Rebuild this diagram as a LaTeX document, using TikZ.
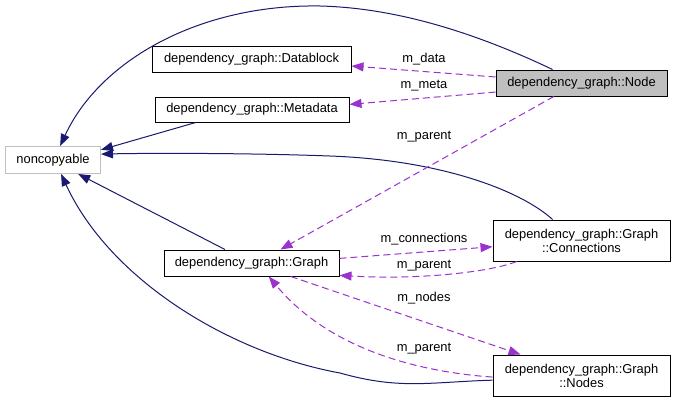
\documentclass[tikz,border=0pt]{standalone}
\usepackage{fontspec}
\setmainfont{Liberation Sans}
\usetikzlibrary{arrows.meta}
\definecolor{inhblue}{HTML}{191970}
\definecolor{usepurple}{HTML}{9A32CD}
\definecolor{boxgray}{HTML}{BFBFBF}
\tikzset{
  cls/.style={rectangle, draw=black, fill=white, line width=1pt, inner sep=0pt,
              align=center, font=\fontsize{12.9}{14}\selectfont},
  extcls/.style={cls, draw=boxgray},
  curcls/.style={cls, fill=boxgray},
  inh/.style={draw=inhblue, line width=1pt, -{Triangle[length=12pt,width=9pt]}},
  mem/.style={draw=usepurple, line width=1pt, dash pattern=on 7pt off 4pt,
              -{Triangle[length=12pt,width=9pt]}},
  mlab/.style={font=\fontsize{12.9}{14}\selectfont},
}
\begin{document}
\begin{tikzpicture}[x=1pt, y=-1pt]
  \useasboundingbox[fill=white] (0,0) rectangle (675,402);
  \node[extcls, minimum width=95pt, minimum height=27pt] (nc) at (53,160) {noncopyable};
  \node[cls, minimum width=199pt, minimum height=26pt] (db) at (251.5,59) {dependency\_graph::Datablock};
  \node[cls, minimum width=194pt, minimum height=25pt] (md) at (252,109.5) {dependency\_graph::Metadata};
  \node[curcls, minimum width=171pt, minimum height=26pt] (nd) at (581.5,83) {dependency\_graph::Node};
  \node[cls, minimum width=175pt, minimum height=26pt] (gr) at (251.5,263) {dependency\_graph::Graph};
  \node[cls, minimum width=177pt, minimum height=41pt] (cn) at (581.5,240.5) {dependency\_graph::Graph\\::Connections};
  \node[cls, minimum width=177pt, minimum height=41pt] (ns) at (581.5,375.5) {dependency\_graph::Graph\\::Nodes};
  \draw[inh] (nd.155) .. controls (480,35) and (400,8) .. (320,6)
             .. controls (200,4) and (100,60) .. (nc.63);
  \draw[inh] (md.193.5) -- (nc.12);
  \draw[inh] (cn.144) .. controls (520,190) and (440,160) .. (330,156)
             .. controls (250,153) and (150,153) .. (nc.7);
  \draw[inh] (gr.153) -- (nc.331);
  \draw[inh] (ns.183.6) .. controls (430,382) and (400,390) .. (340,373)
             .. controls (230,353) and (110,280) .. (nc.300);
  \draw[mem] (nd.176) -- (db.356.5);
  \draw[mem] (nd.186) -- (md.3.8);
  \draw[mem] (nd.206) -- (gr.25);
  \draw[mem] (gr.3.9) -- (cn.184.2);
  \draw[mem] (cn.198.4) .. controls (490,272) and (420,280) .. (gr.352);
  \draw[mem] (gr.341) -- (ns.161.6);
  \draw[mem] (ns.181.6) .. controls (420,372) and (330,350) .. (gr.322);
  \node[mlab] (l1) at (424,59) {m\_data};
  \node[mlab] (l2) at (424,86) {m\_meta};
  \node[mlab] (l3) at (424,137) {m\_parent};
  \node[mlab] (l4) at (424,239) {m\_connections};
  \node[mlab] (l5) at (424,265.5) {m\_parent};
  \node[mlab] (l6) at (424,298) {m\_nodes};
  \node[mlab] (l7) at (424,348.5) {m\_parent};
\end{tikzpicture}
\end{document}
